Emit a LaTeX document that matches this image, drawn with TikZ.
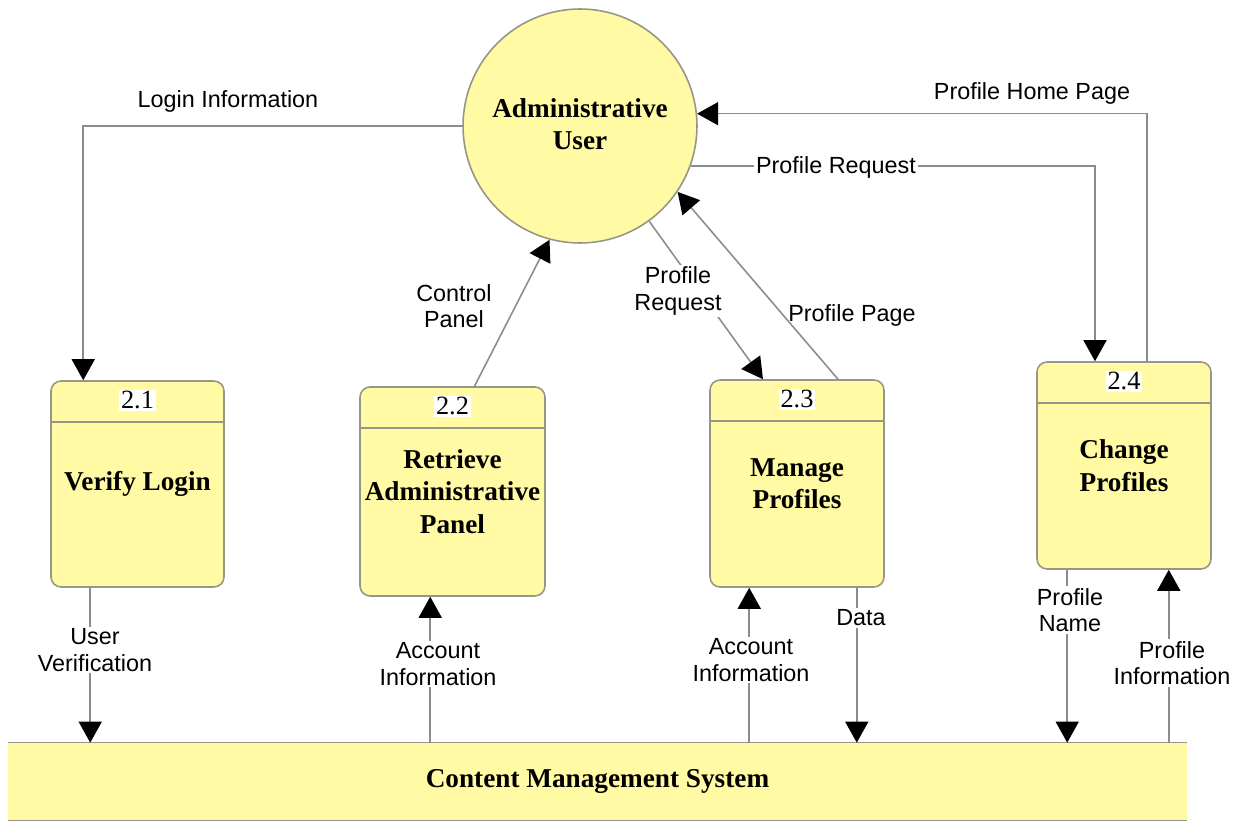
\documentclass[tikz,border=0pt]{standalone}
\usepackage{fontspec}
\setmainfont{Liberation Serif}
\setsansfont{Liberation Sans}
\usetikzlibrary{arrows.meta,calc}

\definecolor{dfdyellow}{RGB}{255,250,163}
\definecolor{dfdedge}{RGB}{150,150,135}
\definecolor{dfdline}{RGB}{140,140,140}

\tikzset{
  flow/.style={draw=dfdline, line width=0.9pt,
    -{Triangle[length=0.42cm, width=0.46cm, color=black]}},
  proc/.style={rectangle, rounded corners=0.2cm, draw=dfdedge, line width=0.9pt,
    fill=dfdyellow, align=center, inner sep=0pt,
    font=\fontsize{15.5}{18.5}\selectfont\bfseries},
  procnum/.style={fill=white, inner sep=1pt, font=\fontsize{15}{18}\selectfont},
  flowlabel/.style={align=center, inner sep=1pt,
    font=\sffamily\fontsize{13.3}{15}\selectfont},
}

\begin{document}
\begin{tikzpicture}[x=0.02cm, y=-0.02cm]
    \useasboundingbox (0,0) rectangle (1248,821);

    % external entity
    \node[circle, draw=dfdedge, fill=dfdyellow, line width=0.9pt,
      minimum size=4.68cm, inner sep=0pt] (user) at (580,126) {};
    \node[align=center, font=\fontsize{15.5}{18.5}\selectfont\bfseries]
      (usertxt) at (580,124) {Administrative\\User};

    % processes
    \node[proc, minimum width=3.46cm, minimum height=4.12cm] (p21) at (137.5,484)
      {Verify Login};
    \node[proc, minimum width=3.7cm, minimum height=4.18cm] (p22) at (452.5,491.5)
      {Retrieve\\Administrative\\Panel};
    \node[proc, minimum width=3.48cm, minimum height=4.14cm] (p23) at (797,483.5)
      {Manage\\Profiles};
    \node[proc, minimum width=3.48cm, minimum height=4.14cm] (p24) at (1124,465.5)
      {Change\\Profiles};
    \foreach \p/\n in {p21/2.1, p22/2.2, p23/2.3, p24/2.4} {
      \draw[dfdedge, line width=0.9pt] ($(\p.north west)+(0,42)$) --
        ($(\p.north east)+(0,42)$);
      \node[procnum] (\p-num) at ($(\p.north)+(0,20)$) {\n};
    }

    % data store
    \node[fill=dfdyellow, minimum width=23.58cm, minimum height=1.54cm, inner sep=0pt,
      font=\fontsize{15.5}{18.5}\selectfont\bfseries] (cms) at (597.5,781.5)
      {Content Management System};
    \draw[dfdedge, line width=0.9pt] (cms.north west) -- (cms.north east);
    \draw[dfdedge, line width=0.9pt] (cms.south west) -- (cms.south east);

    % flows between user and processes
    \coordinate (login) at ($(p21.north west)+(33,0)$);
    \draw[flow] (user.west) -| (login);
    \draw[flow] ($(p22.north)+(22,0)$) -- (user.255);
    \draw[flow] (user.306) -- ($(p23.north)+(-34,0)$);
    \draw[flow] ($(p23.north)+(41,0)$) -- (user.326);
    \draw[flow] (user.340) -| ($(p24.north)+(-29,0)$);
    \draw[flow] ($(p24.north)+(23,0)$) |- (user.6);

    % flows between processes and data store
    \coordinate (uv) at ($(p21.south west)+(40,0)$);
    \draw[flow] (uv) -- (uv |- cms.north);
    \coordinate (acc1) at ($(p22.south west)+(71,0)$);
    \draw[flow] (acc1 |- cms.north) -- (acc1);
    \coordinate (acc2) at ($(p23.south west)+(40,0)$);
    \draw[flow] (acc2 |- cms.north) -- (acc2);
    \coordinate (data) at ($(p23.south east)+(-28,0)$);
    \draw[flow] (data) -- (data |- cms.north);
    \coordinate (pname) at ($(p24.south west)+(31,0)$);
    \draw[flow] (pname) -- (pname |- cms.north);
    \coordinate (pinfo) at ($(p24.south east)+(-43,0)$);
    \draw[flow] (pinfo |- cms.north) -- (pinfo);

    % flow labels
    \node[flowlabel] (loginlbl) at (228,101) {Login Information};
    \node[flowlabel] (ctrllbl) at (454,306) {Control\\Panel};
    \node[flowlabel, fill=white] (preqlbl) at (678,291) {Profile\\Request};
    \node[flowlabel] (ppagelbl) at (852,315) {Profile Page};
    \node[flowlabel, fill=white] (preq2lbl) at (836,167) {Profile Request};
    \node[flowlabel] (phomelbl) at (1032,93) {Profile Home Page};
    \node[flowlabel, fill=white] (uvlbl) at (95,650) {User\\Verification};
    \node[flowlabel, fill=white] (acc1lbl) at (438,664) {Account\\Information};
    \node[flowlabel, fill=white] (acc2lbl) at (751,660) {Account\\Information};
    \node[flowlabel, fill=white] (datalbl) at (861,618) {Data};
    \node[flowlabel, fill=white] (pnamelbl) at (1070,610) {Profile\\Name};
    \node[flowlabel, fill=white] (pinfolbl) at (1172,663) {Profile\\Information};
\end{tikzpicture}
\end{document}
